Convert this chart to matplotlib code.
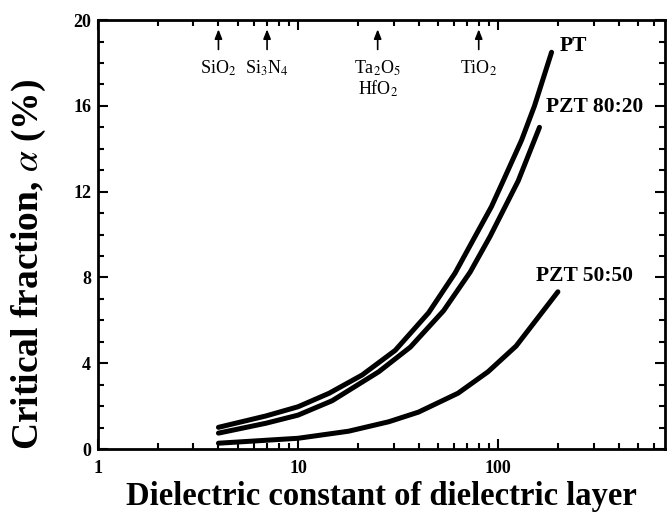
import matplotlib
matplotlib.use("Agg")
import matplotlib.pyplot as plt
from matplotlib.ticker import MultipleLocator, FixedLocator, FixedFormatter, LogLocator, NullFormatter

plt.rcParams['font.family'] = ['Liberation Serif', 'DejaVu Serif']
plt.rcParams['mathtext.fontset'] = 'stix'

# values (dielectric constant, critical fraction %)
pt_x = [4, 6.9, 10, 14.3, 20.9, 30.6, 44.9, 60.9, 76.6, 92.6, 106, 131, 152, 185]
pt_y = [1.01, 1.54, 1.97, 2.60, 3.45, 4.6, 6.35, 8.2, 9.9, 11.3, 12.5, 14.4, 16.0, 18.5]

pzt8020_x = [4, 6.9, 10, 14.8, 25.3, 36.4, 53.4, 72.5, 91, 126, 161]
pzt8020_y = [0.74, 1.20, 1.58, 2.25, 3.60, 4.75, 6.45, 8.25, 9.9, 12.5, 15.0]

pzt5050_x = [4, 10, 17.9, 28.4, 40, 63, 89, 123, 199]
pzt5050_y = [0.27, 0.50, 0.83, 1.27, 1.72, 2.6, 3.6, 4.8, 7.33]

# materials marked with arrows along the top
materials = ['SiO$_2$', 'Si$_3$N$_4$', 'Ta$_2$O$_5$\nHfO$_2$', 'TiO$_2$']
material_k = [4, 7, 25, 80]

fig = plt.figure(figsize=(6.69, 5.18), dpi=100)
ax = fig.add_axes([0.1465, 0.1332, 0.847, 0.828])

for xs, ys in [(pt_x, pt_y), (pzt8020_x, pzt8020_y), (pzt5050_x, pzt5050_y)]:
    ax.plot(xs, ys, color='black', lw=3.6, solid_capstyle='round', solid_joinstyle='round')

ax.set_xscale('log')
ax.set_xlim(1, 680)
ax.set_ylim(0, 20)

# curve labels
lab = dict(fontsize=15.5, fontweight='bold', va='center', ha='left')
ax.text(204, 18.8, 'PT', **lab)
ax.text(174, 15.95, 'PZT 80:20', **lab)
ax.text(155, 8.07, 'PZT 50:50', **lab)

# arrows for common dielectrics
for name, k in zip(materials, material_k):
    ax.annotate('', xy=(k, 19.7), xytext=(k, 18.5),
                arrowprops=dict(arrowstyle='-|>,head_length=0.55,head_width=0.22',
                                color='black', lw=1.2))
    ax.text(k, 18.2, name, ha='center', va='top', fontsize=13, linespacing=1.05)

# ticks
ax.xaxis.set_major_locator(FixedLocator([1, 10, 100]))
ax.xaxis.set_major_formatter(FixedFormatter(['1', '10', '100']))
ax.xaxis.set_minor_locator(LogLocator(base=10, subs=range(2, 10)))
ax.xaxis.set_minor_formatter(NullFormatter())
ax.yaxis.set_major_locator(MultipleLocator(4))
ax.yaxis.set_minor_locator(MultipleLocator(1))
ax.tick_params(which='both', direction='in', top=True, right=True, width=1.5)
ax.tick_params(which='major', length=7)
ax.tick_params(which='minor', length=4)
ax.tick_params(axis='x', which='major', pad=8)
ax.tick_params(axis='y', which='major', pad=5)
for t in ax.get_xticklabels() + ax.get_yticklabels():
    t.set_fontsize(13)
    t.set_fontweight('bold')

for s in ax.spines.values():
    s.set_linewidth(2)

ax.set_xlabel('Dielectric constant of dielectric layer', fontsize=23.5, fontweight='bold', labelpad=3)
ax.set_ylabel('Critical fraction, $\\alpha$ (%)', fontsize=27, fontweight='bold')
ax.yaxis.set_label_coords(-0.088, 0.43)

fig.savefig('out.png', dpi=100)
